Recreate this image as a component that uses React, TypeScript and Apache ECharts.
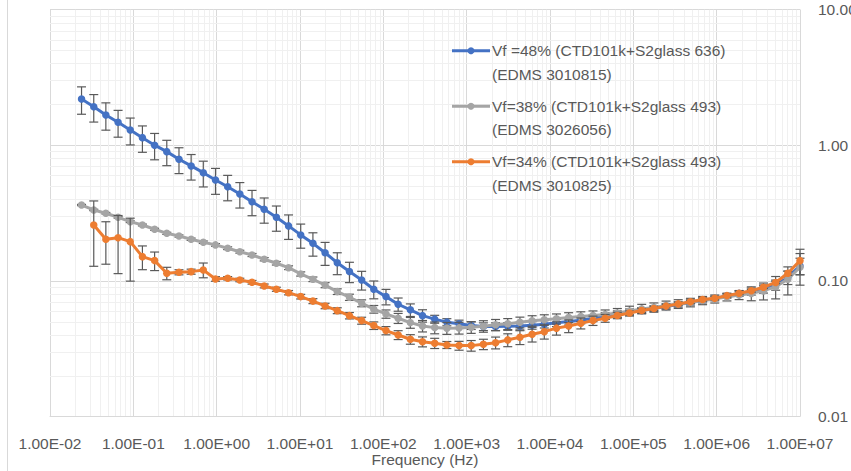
import React, { useEffect, useRef } from "react";
import * as echarts from "echarts";

const freqs = [0.0239, 0.0335, 0.0468, 0.0656, 0.0918, 0.1285, 0.18, 0.252, 0.353, 0.494, 0.691, 0.968, 1.355, 1.897, 2.656, 3.719, 5.206, 7.289, 10.2, 14.29, 20.0, 28.0, 39.2, 54.9, 76.8, 107.6, 150.6, 210.9, 295.2, 413.3, 578.6, 810.1, 1134, 1588, 2223, 3112, 4357, 6100, 8540, 11956, 16738, 23433, 32806, 45928, 64300, 90017, 126023, 176432, 247000, 345800, 484120, 677800, 948900, 1328000, 1859000, 2603000, 3644000, 5102000, 7143000, 10000000];

const blueVals = [2.19, 1.92, 1.67, 1.475, 1.294, 1.136, 1.0, 0.896, 0.787, 0.703, 0.627, 0.554, 0.494, 0.437, 0.383, 0.337, 0.294, 0.254, 0.218, 0.189, 0.161, 0.136, 0.117, 0.1015, 0.0867, 0.0765, 0.0672, 0.0611, 0.0554, 0.0522, 0.0496, 0.0483, 0.0468, 0.046, 0.046, 0.0462, 0.0465, 0.047, 0.0479, 0.049, 0.0502, 0.0512, 0.053, 0.0551, 0.057, 0.059, 0.0605, 0.0626, 0.0648, 0.067, 0.0693, 0.0717, 0.0742, 0.0774, 0.0808, 0.0835, 0.0872, 0.0933, 0.1059, 0.1288];
const grayVals = [0.362, 0.333, 0.315, 0.294, 0.273, 0.258, 0.24, 0.224, 0.214, 0.2026, 0.1926, 0.184, 0.174, 0.164, 0.155, 0.1443, 0.1348, 0.125, 0.1124, 0.1027, 0.093, 0.0833, 0.0757, 0.0684, 0.0618, 0.057, 0.053, 0.0492, 0.0465, 0.0452, 0.0448, 0.045, 0.0455, 0.0463, 0.0474, 0.0482, 0.0495, 0.0508, 0.0517, 0.0525, 0.0537, 0.0546, 0.0555, 0.0565, 0.058, 0.06, 0.0621, 0.0637, 0.0659, 0.0676, 0.0693, 0.0717, 0.0736, 0.0761, 0.0787, 0.0808, 0.0843, 0.0906, 0.1027, 0.1259];
const orangeVals = [null, 0.258, 0.2026, 0.208, 0.1945, 0.1508, 0.141, 0.1138, 0.1157, 0.1169, 0.1203, 0.1033, 0.1045, 0.1015, 0.0976, 0.0917, 0.0867, 0.0818, 0.0765, 0.0709, 0.0653, 0.0603, 0.0554, 0.0509, 0.0468, 0.043, 0.0399, 0.0371, 0.0356, 0.0347, 0.0337, 0.0333, 0.0333, 0.0341, 0.035, 0.0367, 0.0384, 0.0404, 0.0422, 0.0448, 0.0465, 0.0487, 0.0509, 0.053, 0.0556, 0.058, 0.0605, 0.0625, 0.0651, 0.0676, 0.07, 0.0728, 0.0744, 0.0778, 0.0811, 0.0845, 0.0897, 0.0973, 0.1138, 0.1409];

const blueErr = [0.5, 0.44, 0.38, 0.33, 0.29, 0.25, 0.22, 0.19, 0.17, 0.15, 0.135, 0.12, 0.105, 0.093, 0.081, 0.071, 0.062, 0.052, 0.044, 0.037, 0.031, 0.025, 0.02, 0.016, 0.013, 0.01, 0.0075, 0.0065, 0.0058, 0.0035, 0.003, 0.003, 0.003, 0.003, 0.003, 0.003, 0.003, 0.003, 0.003, 0.003, 0.003, 0.003, 0.003, 0.003, 0.003, 0.003, 0.003, 0.003, 0.003, 0.003, 0.003, 0.003, 0.003, 0.003, 0.004, 0.005, 0.006, 0.008, 0.012, 0.018];
const grayErr = [0.004, 0.004, 0.004, 0.004, 0.004, 0.004, 0.004, 0.004, 0.004, 0.004, 0.004, 0.004, 0.004, 0.004, 0.004, 0.004, 0.004, 0.004, 0.004, 0.004, 0.004, 0.004, 0.004, 0.004, 0.004, 0.004, 0.0045, 0.0045, 0.0045, 0.0045, 0.0045, 0.0045, 0.0045, 0.0045, 0.0045, 0.0045, 0.0045, 0.0045, 0.0045, 0.0045, 0.0045, 0.0045, 0.0045, 0.0045, 0.0045, 0.005, 0.005, 0.005, 0.005, 0.005, 0.005, 0.005, 0.005, 0.005, 0.006, 0.0095, 0.012, 0.017, 0.024, 0.033];
const orangeErr = [0, 0.13, 0.07, 0.095, 0.095, 0.03, 0.022, 0.012, 0.005, 0.005, 0.015, 0.004, 0.003, 0.003, 0.003, 0.003, 0.003, 0.003, 0.003, 0.003, 0.003, 0.003, 0.003, 0.003, 0.003, 0.003, 0.003, 0.003, 0.003, 0.003, 0.002, 0.0025, 0.003, 0.003, 0.0035, 0.004, 0.0045, 0.005, 0.005, 0.005, 0.005, 0.0045, 0.004, 0.0035, 0.003, 0.002, 0.002, 0.002, 0.002, 0.002, 0.002, 0.002, 0.002, 0.002, 0.002, 0.002, 0.002, 0.002, 0.004, 0.03];

const seriesNames = [
  "Vf =48% (CTD101k+S2glass 636) (EDMS 3010815)",
  "Vf=38% (CTD101k+S2glass 493) (EDMS 3026056)",
  "Vf=34% (CTD101k+S2glass 493) (EDMS 3010825)",
];
const legendLines = [
  ["Vf =48% (CTD101k+S2glass 636)", "(EDMS 3010815)"],
  ["Vf=38% (CTD101k+S2glass 493)", "(EDMS 3026056)"],
  ["Vf=34% (CTD101k+S2glass 493)", "(EDMS 3010825)"],
];
const seriesColors = ["#4472C4", "#A5A5A5", "#ED7D31"];

const xTickLabels = ["1.00E-02", "1.00E-01", "1.00E+00", "1.00E+01", "1.00E+02", "1.00E+03", "1.00E+04", "1.00E+05", "1.00E+06", "1.00E+07"];
const yTickLabels = ["0.01", "0.10", "1.00", "10.00"];
const xTitle = "Frequency (Hz)";

const FONT = "'Liberation Sans', Arial, sans-serif";
const TEXT_COLOR = "#595959";

export default function App() {
  const ref = useRef<HTMLDivElement>(null);

  useEffect(() => {
    if (!ref.current) return;
    const chart = echarts.init(ref.current, undefined, { renderer: "svg" });

    const allVals = [blueVals, grayVals, orangeVals];
    const allErr = [blueErr, grayErr, orangeErr];

    // minor gridline positions (2..9 within each decade)
    const minorData: number[][] = [];
    for (let d = -2; d < 7; d++) {
      for (let m = 2; m <= 9; m++) minorData.push([m * Math.pow(10, d), 1, 0]);
    }
    for (let d = -2; d < 1; d++) {
      for (let m = 2; m <= 9; m++) minorData.push([1, m * Math.pow(10, d), 1]);
    }

    const minorSeries = {
      type: "custom",
      silent: true,
      z: 0,
      data: minorData,
      encode: { x: 0, y: 1 },
      clip: true,
      renderItem: (params: any, api: any) => {
        const cs = params.coordSys;
        const kind = api.value(2);
        if (kind === 0) {
          const p = api.coord([api.value(0), 1]);
          return {
            type: "line",
            shape: { x1: Math.round(p[0]) + 0.5, y1: cs.y, x2: Math.round(p[0]) + 0.5, y2: cs.y + cs.height },
            style: { stroke: "#f0f0f0", lineWidth: 1 },
          };
        }
        const p = api.coord([1, api.value(1)]);
        return {
          type: "line",
          shape: { x1: cs.x, y1: Math.round(p[1]) + 0.5, x2: cs.x + cs.width, y2: Math.round(p[1]) + 0.5 },
          style: { stroke: "#f0f0f0", lineWidth: 1 },
        };
      },
    };

    const errSeries = allVals.map((vals, k) => ({
      type: "custom",
      silent: true,
      z: 2 + k * 2,
      encode: { x: 0, y: [1, 2] },
      data: vals
        .map((v, i) => (v == null ? null : [freqs[i], v - allErr[k][i], v + allErr[k][i]]))
        .filter((d) => d != null),
      renderItem: (params: any, api: any) => {
        const x = api.value(0);
        const top = api.coord([x, api.value(2)]);
        const bot = api.coord([x, api.value(1)]);
        const w = 4.5;
        const st = { stroke: "#595959", lineWidth: 1.2 };
        return {
          type: "group",
          children: [
            { type: "line", shape: { x1: top[0], y1: top[1], x2: bot[0], y2: bot[1] }, style: st },
            { type: "line", shape: { x1: top[0] - w, y1: top[1], x2: top[0] + w, y2: top[1] }, style: st },
            { type: "line", shape: { x1: bot[0] - w, y1: bot[1], x2: bot[0] + w, y2: bot[1] }, style: st },
          ],
        };
      },
    }));

    const lineSeries = allVals.map((vals, k) => ({
      name: seriesNames[k],
      type: "line",
      z: 3 + k * 2,
      data: vals.map((v, i) => [freqs[i], v]),
      symbol: "circle",
      symbolSize: 7.5,
      showSymbol: true,
      connectNulls: false,
      lineStyle: { color: seriesColors[k], width: 3 },
      itemStyle: { color: seriesColors[k] },
      silent: true,
    }));

    const legendGraphics: any[] = [];
    const legendX = 452;
    const legendY0 = 50.7;
    const legendStep = 55.5;
    const lh = 23.6;
    legendLines.forEach((lines, k) => {
      const y = legendY0 + k * legendStep;
      legendGraphics.push({
        type: "line",
        z: 100,
        shape: { x1: legendX, y1: y, x2: legendX + 38, y2: y },
        style: { stroke: seriesColors[k], lineWidth: 3 },
      });
      legendGraphics.push({
        type: "circle",
        z: 101,
        shape: { cx: legendX + 19, cy: y, r: 3.5 },
        style: { fill: seriesColors[k] },
      });
      legendGraphics.push({
        type: "text",
        z: 100,
        x: legendX + 40,
        y: y - lh / 2,
        style: {
          text: lines.join("\n"),
          fill: TEXT_COLOR,
          fontSize: 15.5,
          fontFamily: FONT,
          lineHeight: lh,
          verticalAlign: "top",
          align: "left",
        },
      });
    });
    legendGraphics.push({
      type: "line",
      z: 100,
      shape: { x1: 7.5, y1: 0, x2: 7.5, y2: 471 },
      style: { stroke: "#d9d9d9", lineWidth: 1 },
    });

    chart.setOption({
      animation: false,
      backgroundColor: "#ffffff",
      textStyle: { fontFamily: FONT },
      grid: { left: 50, right: 51, top: 9.5, bottom: 54.5, containLabel: false, outerBoundsMode: "none" },
      xAxis: {
        type: "log",
        logBase: 10,
        min: 0.01,
        max: 1e7,
        splitNumber: 9,
        name: xTitle,
        nameLocation: "middle",
        nameGap: 35,
        nameMoveOverlap: false,
        nameTextStyle: { color: TEXT_COLOR, fontSize: 15.5, fontFamily: FONT },
        axisLine: { show: true, lineStyle: { color: "#d9d9d9", width: 1 } },
        axisTick: { show: false },
        axisLabel: {
          color: TEXT_COLOR,
          fontSize: 15.5,
          fontFamily: FONT,
          margin: 19,
          formatter: (v: number) => xTickLabels[Math.round(Math.log10(v)) + 2] ?? "",
        },
        splitLine: { show: true, lineStyle: { color: "#d9d9d9", width: 1 } },
      },
      yAxis: {
        type: "log",
        logBase: 10,
        min: 0.01,
        max: 10,
        splitNumber: 3,
        position: "right",
        axisLine: { show: false },
        axisTick: { show: false },
        axisLabel: {
          color: TEXT_COLOR,
          fontSize: 15.5,
          fontFamily: FONT,
          margin: 18,
          formatter: (v: number) => yTickLabels[Math.round(Math.log10(v)) + 2] ?? "",
        },
        splitLine: { show: true, lineStyle: { color: "#d9d9d9", width: 1 } },
      },
      legend: { show: false },
      graphic: legendGraphics,
      series: [minorSeries, ...errSeries, ...lineSeries],
    });

    return () => chart.dispose();
  }, []);

  return (
    <div
      ref={ref}
      style={{ position: "fixed", left: 0, top: 0, width: 851, height: 471, background: "#fff" }}
    />
  );
}
